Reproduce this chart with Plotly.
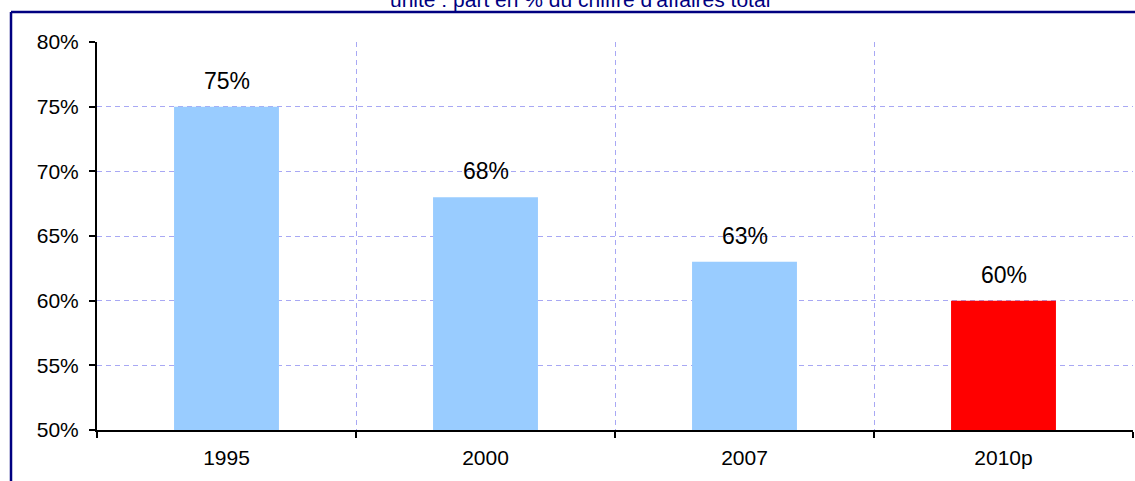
import plotly.graph_objects as go

categories = ["1995", "2000", "2007", "2010p"]
values = [75, 68, 63, 60]
labels = ["75%", "68%", "63%", "60%"]
bar_colors = ["#99ccff", "#99ccff", "#99ccff", "#ff0000"]
y_ticks = [50, 55, 60, 65, 70, 75, 80]
y_ticklabels = ["50%", "55%", "60%", "65%", "70%", "75%", "80%"]
title_text = "unité : part en % du chiffre d'affaires total"

W, H = 1135, 481
ML, MR, MT, MB = 97, 2, 42, 51
pw, ph = W - ML - MR, H - MT - MB

def px_x(x):
    return (x - ML) / pw

def px_y(y):
    return 1 - (y - MT) / ph

FONT = "Liberation Sans, Arial"

fig = go.Figure()
fig.add_trace(go.Bar(
    x=categories, y=values, width=0.405,
    marker=dict(color=bar_colors, line=dict(width=0)),
    hoverinfo="x+y",
))

for i, (v, t) in enumerate(zip(values, labels)):
    fig.add_annotation(x=i, y=v, text=t, xref="x", yref="y",
                       xanchor="center", yanchor="bottom", yshift=11,
                       showarrow=False,
                       font=dict(family=FONT, size=23, color="#000000"))

grid_color = "#a8a8f4"
fig.update_layout(
    width=W, height=H,
    margin=dict(l=ML, r=MR, t=MT, b=MB, pad=0),
    paper_bgcolor="white", plot_bgcolor="white",
    showlegend=False,
    bargap=0.595,
    font=dict(family=FONT, color="#000000"),
    xaxis=dict(
        type="category", range=[-0.5, 3.5], tickson="boundaries",
        showgrid=True, gridcolor=grid_color, gridwidth=1, griddash="5px,4px",
        showline=True, linecolor="#000000", linewidth=2,
        ticks="outside", ticklen=6, tickwidth=2, tickcolor="#000000",
        tickfont=dict(size=21), ticklabelstandoff=8, zeroline=False,
    ),
    yaxis=dict(
        range=[50, 80], tickvals=y_ticks, ticktext=y_ticklabels,
        showgrid=True, gridcolor=grid_color, gridwidth=1, griddash="5px,4px",
        showline=True, linecolor="#000000", linewidth=2,
        ticks="outside", ticklen=6, tickwidth=2, tickcolor="#000000",
        tickfont=dict(size=21), ticklabelstandoff=6, zeroline=False,
    ),
)

frame_color = "#000080"
fig.add_shape(type="line", xref="paper", yref="paper",
              x0=px_x(11), x1=px_x(11), y0=px_y(12), y1=px_y(H + 5),
              line=dict(color=frame_color, width=2.5))
fig.add_shape(type="line", xref="paper", yref="paper",
              x0=px_x(11), x1=px_x(W + 5), y0=px_y(12), y1=px_y(12),
              line=dict(color=frame_color, width=2.5))

fig.add_annotation(text=title_text, xref="paper", yref="paper",
                   x=px_x(580), y=px_y(13), xanchor="center", yanchor="bottom",
                   showarrow=False,
                   font=dict(family=FONT, size=21, color=frame_color))

fig.write_html("out.html", config={"displayModeBar": False},
               post_script="document.body.style.margin='0';")
